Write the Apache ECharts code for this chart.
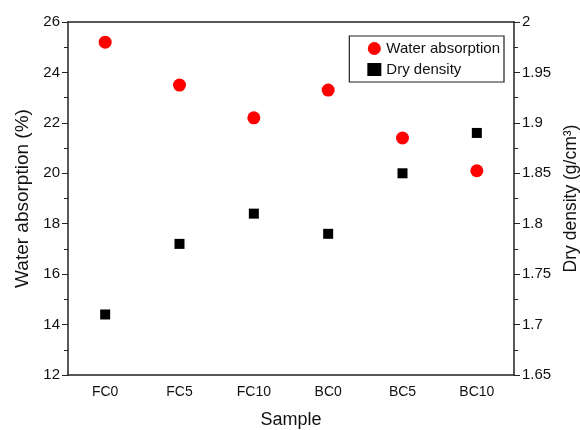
<!DOCTYPE html>
<html>
<head>
<meta charset="utf-8">
<script src="https://cdn.jsdelivr.net/npm/echarts@6/dist/echarts.min.js"></script>
<style>
  html, body { margin: 0; padding: 0; background: #fff; }
  #main { width: 580px; height: 430px; }
</style>
</head>
<body>
<div id="main"></div>
<script>
var samples = ['FC0', 'FC5', 'FC10', 'BC0', 'BC5', 'BC10'];
var waterAbsorption = [25.2, 23.5, 22.2, 23.3, 21.4, 20.1];
var dryDensity = [1.71, 1.78, 1.81, 1.79, 1.85, 1.89];

var myChart = echarts.init(document.getElementById('main'));
var font = 'Liberation Sans, Arial, sans-serif';
var axisLine = { show: true, lineStyle: { color: '#222', width: 1.5 } };

myChart.setOption({
    animation: false,
    textStyle: { fontFamily: font },
    grid: { left: 68, right: 66, top: 22, bottom: 55, outerBoundsMode: 'none' },
    legend: {
        top: 36, right: 76,
        orient: 'vertical',
        itemGap: 6,
        itemWidth: 14, itemHeight: 13,
        padding: [5, 4, 5, 18],
        borderColor: '#222', borderWidth: 1.2,
        textStyle: { fontSize: 15, color: '#111', fontFamily: font },
        data: [
            { name: 'Water absorption', icon: 'circle' },
            { name: 'Dry density', icon: 'rect', itemStyle: { color: '#000' } }
        ]
    },
    xAxis: [{
        type: 'category',
        data: samples,
        name: 'Sample',
        nameLocation: 'middle',
        nameGap: 36,
        nameTextStyle: { fontSize: 18, color: '#111' },
        axisLine: axisLine,
        axisTick: { alignWithLabel: true, length: 6, lineStyle: { color: '#222' } },
        axisLabel: { fontSize: 14, color: '#111', margin: 10 }
    }, {
        type: 'category',
        data: samples,
        position: 'top',
        axisLine: axisLine,
        axisTick: { alignWithLabel: true, inside: true, length: 6, lineStyle: { color: '#222' } },
        axisLabel: { show: false }
    }],
    yAxis: [{
        type: 'value',
        min: 12, max: 26, interval: 2,
        name: 'Water absorption (%)',
        nameLocation: 'middle',
        nameGap: 34,
        nameTextStyle: { fontSize: 19, color: '#111' },
        axisLine: axisLine,
        axisTick: { show: true, length: 6, lineStyle: { color: '#222' } },
        minorTick: { show: true, splitNumber: 2, length: 4, lineStyle: { color: '#222' } },
        splitLine: { show: false },
        axisLabel: { fontSize: 15, color: '#111', margin: 8 }
    }, {
        type: 'value',
        min: 1.65, max: 2, interval: 0.05,
        position: 'right',
        name: 'Dry density (g/cm³)',
        nameLocation: 'middle',
        nameGap: 47,
        nameRotate: 90,
        nameTextStyle: { fontSize: 17.5, color: '#111' },
        axisLine: axisLine,
        axisTick: { show: true, length: 6, lineStyle: { color: '#222' } },
        minorTick: { show: true, splitNumber: 2, length: 4, lineStyle: { color: '#222' } },
        splitLine: { show: false },
        axisLabel: {
            fontSize: 15, color: '#111', margin: 8,
            formatter: function (v) { return String(parseFloat(v.toFixed(2))); }
        }
    }],
    series: [{
        name: 'Water absorption',
        type: 'scatter',
        symbol: 'circle',
        symbolSize: 13,
        itemStyle: { color: '#ff0000', opacity: 1 },
        data: waterAbsorption
    }, {
        name: 'Dry density',
        type: 'scatter',
        yAxisIndex: 1,
        symbol: 'rect',
        symbolSize: 10,
        itemStyle: { color: '#000', opacity: 1 },
        data: dryDensity
    }]
});
</script>
</body>
</html>
